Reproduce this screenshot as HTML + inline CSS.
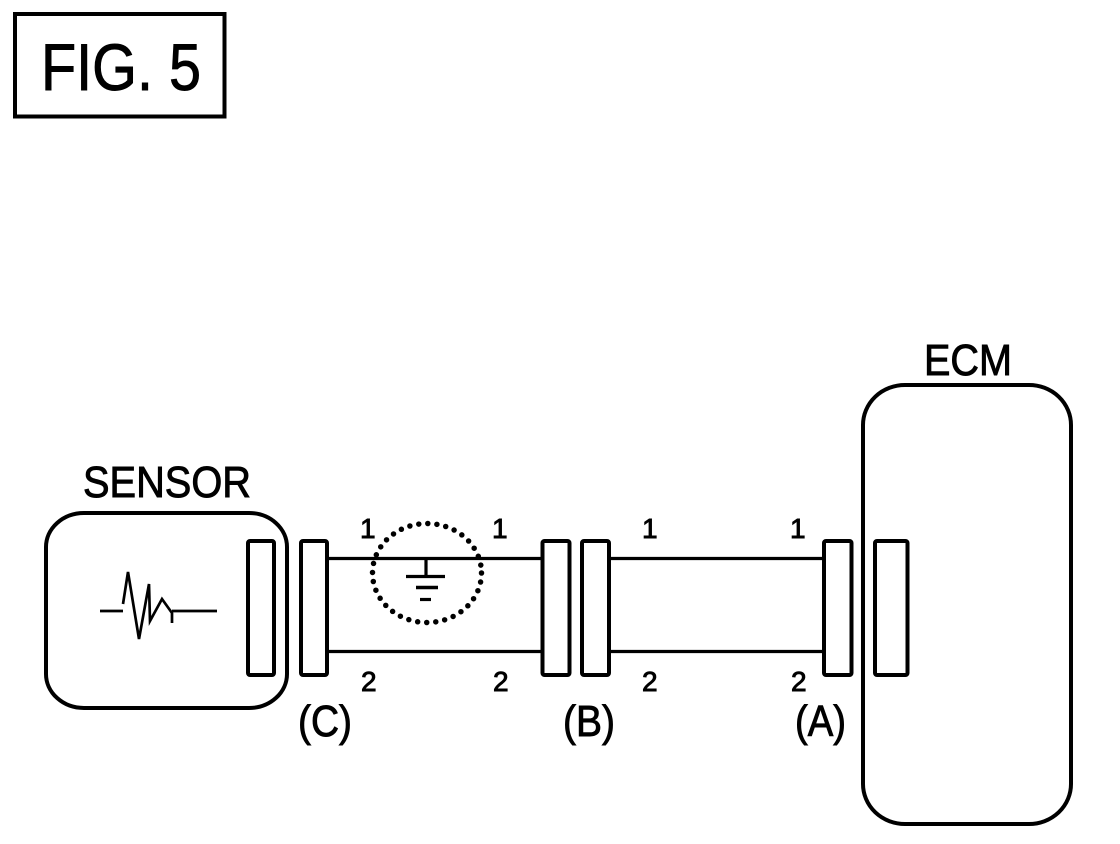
<!DOCTYPE html>
<html>
<head>
<meta charset="utf-8">
<style>
html,body{margin:0;padding:0;background:#fff;width:1120px;height:844px;overflow:hidden}
svg{display:block}
text{font-family:"Liberation Sans",sans-serif;fill:#000;stroke:#000;stroke-width:.9}
</style>
</head>
<body>
<svg width="1120" height="844" viewBox="0 0 1120 844" xmlns="http://www.w3.org/2000/svg">
<rect width="1120" height="844" fill="#fff"/>
<g fill="none" stroke="#000" stroke-width="4">
<rect x="15" y="14" width="209.500" height="102.500"/>
<rect x="46" y="513" width="241" height="195" rx="38" ry="34"/>
<rect x="863" y="385" width="208" height="439" rx="42" ry="40"/>
<rect x="248" y="541" width="26" height="134" rx="2"/>
<rect x="301" y="541" width="26" height="134" rx="2"/>
<rect x="542.500" y="541" width="27" height="134" rx="2"/>
<rect x="582" y="541" width="27" height="134" rx="2"/>
<rect x="824" y="541" width="27.500" height="134" rx="2"/>
<rect x="875" y="541" width="32.500" height="134" rx="2"/>
</g>
<g stroke="#000" stroke-width="3.200" fill="none">
<path d="M328 558.500H541M328 651.500H541M611 558.500H822M611 651.500H822"/>
<path d="M426 558V576M406 576.500H445"/>
<path d="M416 587.500H438" stroke-width="3.500"/>
<path d="M420 599.500H431"/>
</g>
<ellipse cx="427" cy="573" rx="54.500" ry="49.500" fill="none" stroke="#000" stroke-width="5.500" stroke-linecap="round" stroke-dasharray="0 9.100"/>
<g fill="none" stroke="#000" stroke-width="2.700">
<path d="M100 611H123M172 611H217"/>
<path d="M123 604L128 572L139 639L149 584L150 621L162 599L172 613V623"/>
</g>
<text x="41" y="90" font-size="66" textLength="160" lengthAdjust="spacingAndGlyphs">FIG. 5</text>
<text x="83" y="497" font-size="44" textLength="168" lengthAdjust="spacingAndGlyphs">SENSOR</text>
<text x="924" y="375" font-size="44" textLength="88" lengthAdjust="spacingAndGlyphs">ECM</text>
<g font-size="28">
<text x="360" y="538">1</text>
<text x="492" y="538">1</text>
<text x="642" y="538">1</text>
<text x="790" y="538">1</text>
<text x="361" y="691">2</text>
<text x="493" y="691">2</text>
<text x="642" y="691">2</text>
<text x="791" y="691">2</text>
</g>
<g font-size="44">
<text x="298" y="736" textLength="54" lengthAdjust="spacingAndGlyphs">(C)</text>
<text x="563" y="736" textLength="52" lengthAdjust="spacingAndGlyphs">(B)</text>
<text x="795" y="736" textLength="51" lengthAdjust="spacingAndGlyphs">(A)</text>
</g>
</svg>
</body>
</html>
